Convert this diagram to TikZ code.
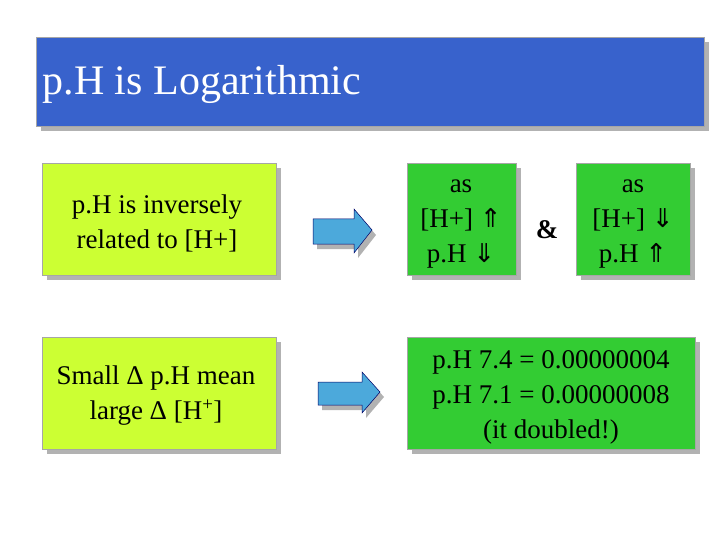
\documentclass[tikz,border=0pt]{standalone}
\usepackage{fontspec}
\setmainfont{Liberation Serif}
\newfontfamily\arrfont{DejaVu Sans}
\newcommand{\arr}[1]{{\arrfont\fontsize{26}{30}\selectfont #1}}
\begin{document}
\begin{tikzpicture}[x=1pt,y=-1pt,
  box/.style={draw=gray!70,line width=0.6pt,align=center,inner sep=0pt},
  shadow/.style={fill=gray!60},
  txt/.style={font=\fontsize{27}{35}\selectfont,align=center},
  barr/.style={fill=blue!35!cyan!80!black!70,draw=blue!40!black,line width=0.5pt}]
\useasboundingbox (0,0) rectangle (720,540);
% title
\fill[shadow] (41,42) rectangle (709,131);
\path[box,fill={rgb,255:red,56;green,98;blue,204}] (36,37) rectangle (704,126);
\node[anchor=west,text=white,font=\fontsize{42}{46}\selectfont] (title) at (39,84) {p.H is Logarithmic};
% left boxes
\fill[shadow] (47,168) rectangle (281,280);
\path[box,fill={rgb,255:red,204;green,255;blue,51}] (42,163) rectangle (276,275);
\node[txt] (b1) at (157,223) {p.H is inversely\\related to [H+]};
\fill[shadow] (47,342) rectangle (281,454);
\path[box,fill={rgb,255:red,204;green,255;blue,51}] (42,337) rectangle (276,449);
\node[txt] (b2) at (156,396) {Small Δ p.H mean\\large Δ [H\textsuperscript{+}]};
% arrows
\fill[gray!60] (317,224) -- (358,224) -- (358,214) -- (376,235) -- (358,258) -- (358,249) -- (317,249) -- cycle;
\path[barr] (313,219) -- (354,219) -- (354,209) -- (372,230) -- (354,253) -- (354,244) -- (313,244) -- cycle;
\fill[gray!60] (322,387) -- (366,387) -- (366,377) -- (384,397) -- (366,418) -- (366,410) -- (322,410) -- cycle;
\path[barr] (318,382) -- (362,382) -- (362,372) -- (380,392) -- (362,413) -- (362,405) -- (318,405) -- cycle;
% right top boxes
\fill[shadow] (412,168) rectangle (521,280);
\path[box,fill={rgb,255:red,51;green,204;blue,51}] (407,163) rectangle (516,275);
\node[txt] (b3) at (461,224) {as\\{[H+]} \arr{⇑}\\p.H \arr{⇓}};
\node[font=\fontsize{27}{30}\selectfont\bfseries] (amp) at (547,230) {\&};
\fill[shadow] (581,168) rectangle (695,280);
\path[box,fill={rgb,255:red,51;green,204;blue,51}] (576,163) rectangle (690,275);
\node[txt] (b4) at (633,224) {as\\{[H+]} \arr{⇓}\\p.H \arr{⇑}};
% bottom right
\fill[shadow] (412,342) rectangle (700,454);
\path[box,fill={rgb,255:red,51;green,204;blue,51}] (407,337) rectangle (695,449);
\node[txt] (b5) at (551,397) {p.H 7.4 = 0.00000004\\p.H 7.1 = 0.00000008\\(it doubled!)};
\end{tikzpicture}
\end{document}
